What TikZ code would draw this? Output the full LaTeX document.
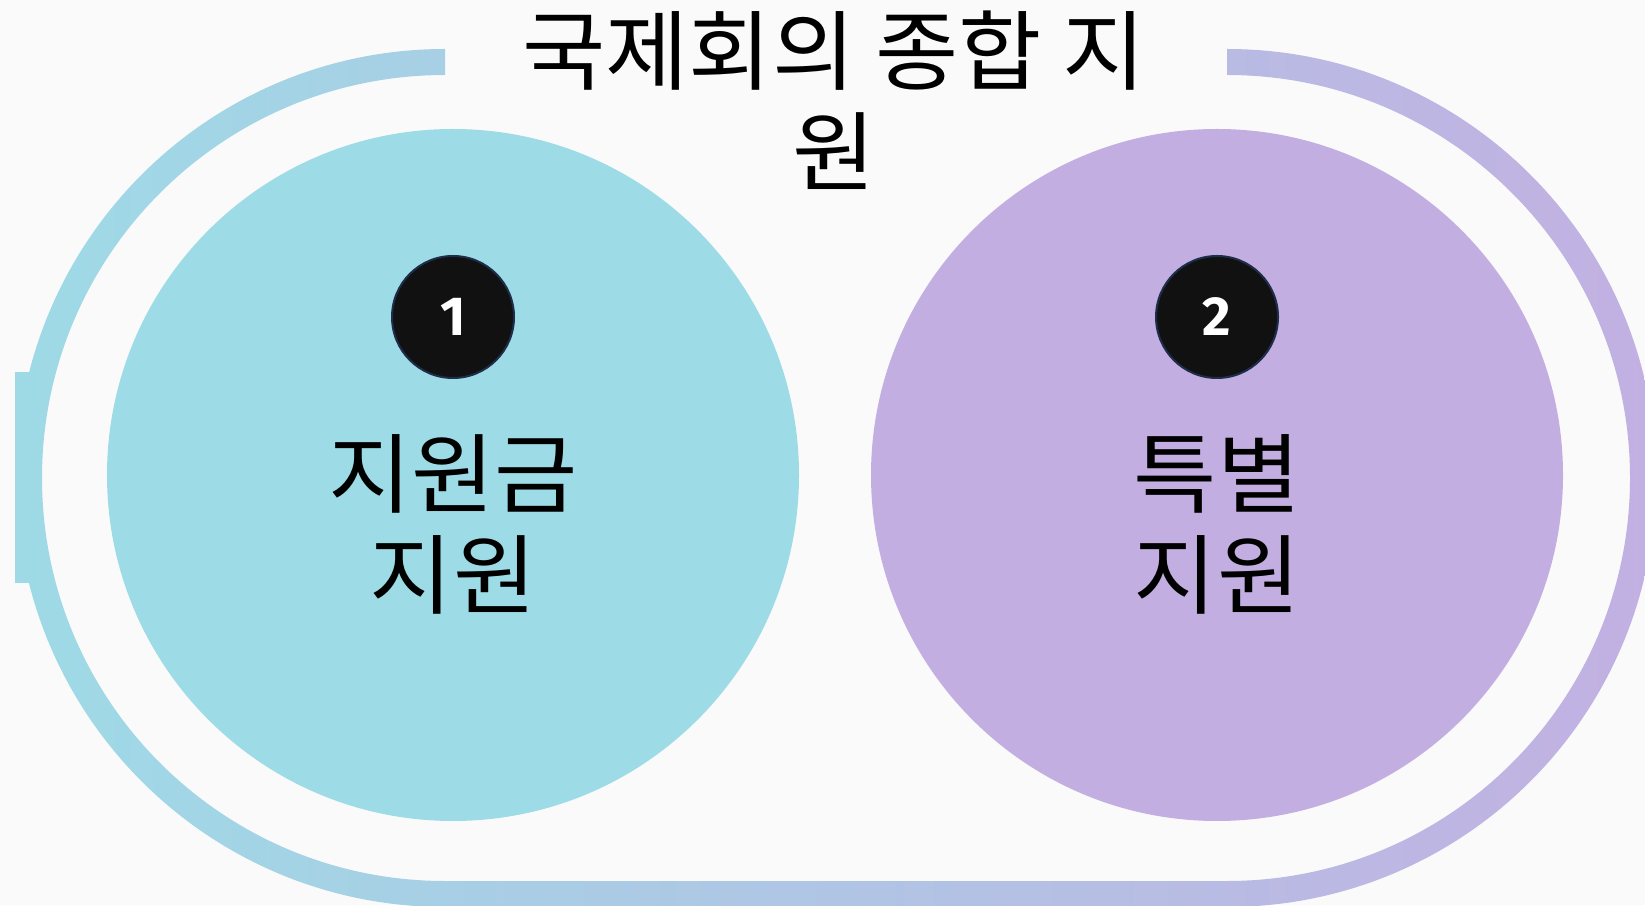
\documentclass[tikz,border=0pt]{standalone}
\usepackage{fontspec}
\newfontfamily\kr{Noto Sans CJK KR}
\newfontfamily\numfont{Fira Sans}
\definecolor{bg}{HTML}{FAFAFA}
\definecolor{cyanc}{HTML}{9DDCE6}
\definecolor{lilac}{HTML}{C3AEE2}
\definecolor{bandL}{HTML}{9EDAE6}
\definecolor{bandR}{HTML}{C2B0E2}
\definecolor{numfill}{HTML}{111111}
\definecolor{numedge}{HTML}{1E2D4A}
\begin{document}
\begin{tikzpicture}[x=1pt,y=1pt,
  bigc/.style={circle, inner sep=0pt, minimum size=692pt},
  numc/.style={circle, inner sep=0pt, minimum size=122pt, fill=numfill, draw=numedge, line width=2pt,
    text=white, font=\numfont\bfseries\fontsize{55}{55}\selectfont},
  label/.style={align=center, anchor=base, inner sep=0pt, xscale=1.04, transform shape,
    font=\kr\fontsize{87}{101}\selectfont, text=black}]
\useasboundingbox (0,0) rectangle (1645,905);
\fill[bg] (0,0) rectangle (1645,905);
% outer track
\shade[left color=bandL, right color=bandR]
  (445,856) arc[start angle=90, end angle=270, radius=429]
  -- (1227,-2) arc[start angle=-90, end angle=90, radius=429]
  -- (1227,830) arc[start angle=90, end angle=-90, radius=403]
  -- (445,24) arc[start angle=270, end angle=90, radius=403] -- cycle;
\fill[bandL] (15,322) rectangle (40,533);
% big circles
\node[bigc, fill=cyanc] (c1) at (453,430) {};
\node[bigc, fill=lilac] (c2) at (1217,430) {};
% number badges
\node[numc] (n1) at (453,588) {1};
\node[numc] (n2) at (1217,588) {2};
% texts
\node[label] (t1) at (453,297) {지원금\\지원};
\node[label] (t2) at (1217,297) {특별\\지원};
\node[label] (title) at (834,720) {국제회의 종합 지\\원};
\end{tikzpicture}
\end{document}
